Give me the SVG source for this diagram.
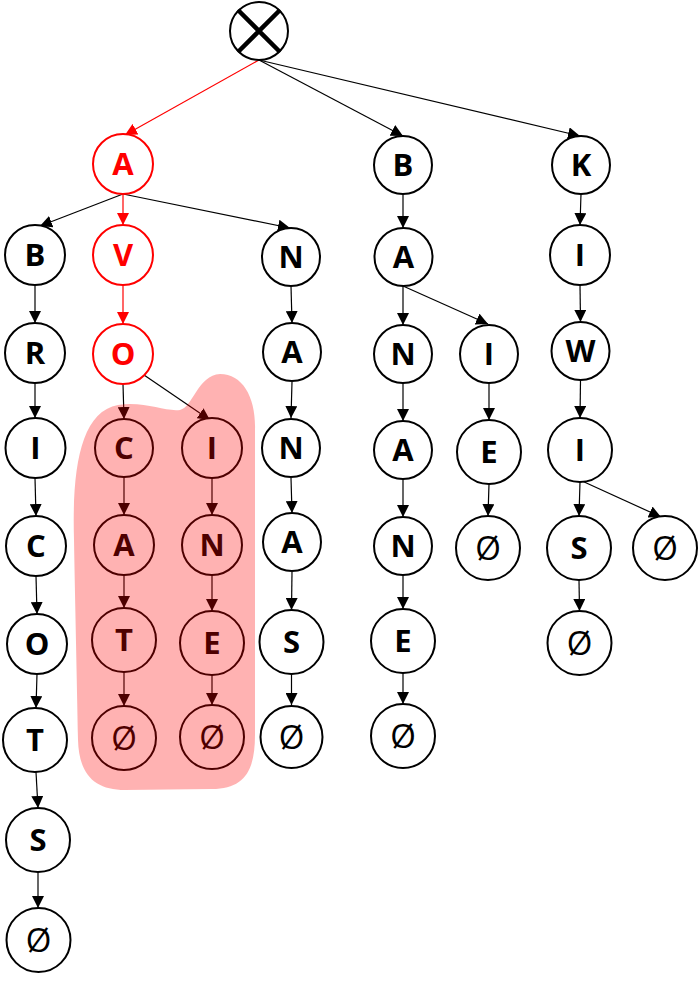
<svg xmlns="http://www.w3.org/2000/svg" width="700" height="984" viewBox="0 0 700 984">
<defs>
<style>
.n circle{fill:#fff;stroke:#000;stroke-width:2}
.n text{font-family:"Open Sans","Liberation Sans",sans-serif;font-weight:700;font-size:31px;text-anchor:middle;fill:#000}
.n text.e{font-weight:400;font-size:33px}
.r circle{stroke:#f00}
.r text{fill:#f00}
.c line{stroke:#000;stroke-width:1.2;marker-end:url(#ah)}
.c line.red{stroke:#f00;marker-end:url(#ahr)}
</style>
<marker id="ah" markerUnits="userSpaceOnUse" markerWidth="12" markerHeight="12" refX="12" refY="6" orient="auto"><path d="M0,0 L12,6 L0,12 Z" fill="#000"/></marker>
<marker id="ahr" markerUnits="userSpaceOnUse" markerWidth="12" markerHeight="12" refX="12" refY="6" orient="auto"><path d="M0,0 L12,6 L0,12 Z" fill="#f00"/></marker>
</defs>
<rect width="700" height="984" fill="#fff"/>
<g class="c" id="connectors">
<line class="red" x1="259" y1="60" x2="125" y2="135"/>
<line x1="259" y1="60" x2="403" y2="136"/>
<line x1="259" y1="60" x2="580" y2="136"/>
<line x1="123" y1="194" x2="40" y2="226"/>
<line class="red" x1="123" y1="194" x2="123" y2="225"/>
<line x1="123" y1="194" x2="290" y2="228"/>
<line class="red" x1="123" y1="285" x2="123" y2="324"/>
<line x1="35" y1="285" x2="35" y2="323"/>
<line x1="35" y1="383" x2="35" y2="418"/>
<line x1="35" y1="478" x2="36" y2="516"/>
<line x1="36" y1="576" x2="37" y2="614"/>
<line x1="37" y1="674" x2="36" y2="708"/>
<line x1="36" y1="772" x2="38" y2="808"/>
<line x1="38" y1="872" x2="38" y2="908"/>
<line x1="123" y1="384" x2="124" y2="419"/>
<line x1="144" y1="375" x2="210" y2="420"/>
<line x1="124" y1="477" x2="124" y2="515"/>
<line x1="124" y1="575" x2="124" y2="608"/>
<line x1="124" y1="672" x2="124" y2="706"/>
<line x1="212" y1="478" x2="212" y2="515"/>
<line x1="212" y1="575" x2="212" y2="611"/>
<line x1="212" y1="675" x2="212" y2="705"/>
<line x1="291" y1="286" x2="292" y2="323"/>
<line x1="292" y1="382" x2="291" y2="418"/>
<line x1="291" y1="478" x2="292" y2="513"/>
<line x1="292" y1="572" x2="291.5" y2="610"/>
<line x1="291.5" y1="674" x2="291.5" y2="705"/>
<line x1="403" y1="194" x2="403" y2="228"/>
<line x1="403" y1="286" x2="403" y2="325"/>
<line x1="403" y1="286" x2="488" y2="324"/>
<line x1="403" y1="383" x2="403" y2="421"/>
<line x1="403" y1="479" x2="403" y2="517"/>
<line x1="403" y1="575" x2="403" y2="609"/>
<line x1="403" y1="673" x2="403" y2="704"/>
<line x1="489" y1="383" x2="489" y2="420"/>
<line x1="489" y1="484" x2="488" y2="516"/>
<line x1="581" y1="194" x2="580" y2="225"/>
<line x1="580" y1="285" x2="580.5" y2="322"/>
<line x1="580.5" y1="380" x2="580" y2="418"/>
<line x1="580" y1="482" x2="579" y2="516"/>
<line x1="582" y1="481" x2="661" y2="517"/>
<line x1="579" y1="580" x2="579.5" y2="611"/>
</g>
<g id="root" class="n"><circle cx="259" cy="31" r="29"/><path d="M238,10 L280,52 M280,10 L238,52" stroke="#000" stroke-width="4.5"/></g>
<g id="n-A" class="n r"><circle cx="123" cy="164" r="30"/><text x="123" y="175">A</text></g>
<g id="n-AV" class="n r"><circle cx="123" cy="255" r="30"/><text x="123" y="266">V</text></g>
<g id="n-AVO" class="n r"><circle cx="123" cy="354" r="30"/><text x="123" y="365">O</text></g>
<g id="n-AB" class="n"><circle cx="35" cy="255" r="30"/><text x="35" y="266">B</text></g>
<g id="n-ABR" class="n"><circle cx="35" cy="353" r="30"/><text x="35" y="364">R</text></g>
<g id="n-ABRI" class="n"><circle cx="35.5" cy="448" r="30"/><text x="35.5" y="459">I</text></g>
<g id="n-ABRIC" class="n"><circle cx="36" cy="546" r="30"/><text x="36" y="557">C</text></g>
<g id="n-ABRICO" class="n"><circle cx="37" cy="644" r="30"/><text x="37" y="655">O</text></g>
<g id="n-ABRICOT" class="n"><circle cx="35" cy="740" r="32"/><text x="35" y="751">T</text></g>
<g id="n-ABRICOTS" class="n"><circle cx="38" cy="840" r="32"/><text x="38" y="851">S</text></g>
<g id="n-ABRICOTS-end" class="n"><circle cx="38.5" cy="940" r="32"/><text class="e" x="38.5" y="952">Ø</text></g>
<g id="n-AVOC" class="n"><circle cx="124" cy="448" r="29"/><text x="124" y="459">C</text></g>
<g id="n-AVOCA" class="n"><circle cx="124" cy="545" r="30"/><text x="124" y="556">A</text></g>
<g id="n-AVOCAT" class="n"><circle cx="124" cy="640" r="32"/><text x="124" y="651">T</text></g>
<g id="n-AVOCAT-end" class="n"><circle cx="124" cy="738" r="32"/><text class="e" x="124" y="750">Ø</text></g>
<g id="n-AVOI" class="n"><circle cx="212" cy="448" r="30"/><text x="212" y="459">I</text></g>
<g id="n-AVOIN" class="n"><circle cx="212" cy="545" r="30"/><text x="212" y="556">N</text></g>
<g id="n-AVOINE" class="n"><circle cx="212" cy="643" r="32"/><text x="212" y="654">E</text></g>
<g id="n-AVOINE-end" class="n"><circle cx="212" cy="737" r="32"/><text class="e" x="212" y="749">Ø</text></g>
<g id="n-AN" class="n"><circle cx="291" cy="257" r="29"/><text x="291" y="268">N</text></g>
<g id="n-ANA" class="n"><circle cx="292" cy="352" r="29"/><text x="292" y="363">A</text></g>
<g id="n-ANAN" class="n"><circle cx="291" cy="448" r="29"/><text x="291" y="459">N</text></g>
<g id="n-ANANA" class="n"><circle cx="292" cy="542" r="29"/><text x="292" y="553">A</text></g>
<g id="n-ANANAS" class="n"><circle cx="291.5" cy="642" r="32"/><text x="291.5" y="653">S</text></g>
<g id="n-ANANAS-end" class="n"><circle cx="291.5" cy="737" r="31"/><text class="e" x="291.5" y="749">Ø</text></g>
<g id="n-B" class="n"><circle cx="403" cy="165" r="29"/><text x="403" y="176">B</text></g>
<g id="n-BA" class="n"><circle cx="403.5" cy="257" r="29"/><text x="403.5" y="268">A</text></g>
<g id="n-BAN" class="n"><circle cx="403" cy="354" r="29"/><text x="403" y="365">N</text></g>
<g id="n-BANA" class="n"><circle cx="403" cy="450" r="29"/><text x="403" y="461">A</text></g>
<g id="n-BANAN" class="n"><circle cx="403" cy="546" r="29"/><text x="403" y="557">N</text></g>
<g id="n-BANANE" class="n"><circle cx="403" cy="641" r="32"/><text x="403" y="652">E</text></g>
<g id="n-BANANE-end" class="n"><circle cx="403" cy="736" r="32"/><text class="e" x="403" y="748">Ø</text></g>
<g id="n-BAI" class="n"><circle cx="489" cy="354" r="29"/><text x="489" y="365">I</text></g>
<g id="n-BAIE" class="n"><circle cx="489" cy="452" r="32"/><text x="489" y="463">E</text></g>
<g id="n-BAIE-end" class="n"><circle cx="488" cy="548" r="32"/><text class="e" x="488" y="560">Ø</text></g>
<g id="n-K" class="n"><circle cx="581" cy="165" r="29"/><text x="581" y="176">K</text></g>
<g id="n-KI" class="n"><circle cx="580" cy="255" r="30"/><text x="580" y="266">I</text></g>
<g id="n-KIW" class="n"><circle cx="580.5" cy="351" r="29"/><text x="580.5" y="362">W</text></g>
<g id="n-KIWI" class="n"><circle cx="580" cy="450" r="32"/><text x="580" y="461">I</text></g>
<g id="n-KIWIS" class="n"><circle cx="579" cy="548" r="32"/><text x="579" y="559">S</text></g>
<g id="n-KIWIS-end" class="n"><circle cx="579.5" cy="643" r="32"/><text class="e" x="579.5" y="655">Ø</text></g>
<g id="n-KIWI-end" class="n"><circle cx="665" cy="548" r="32"/><text class="e" x="665" y="560">Ø</text></g>
<path id="highlight" d="M74 540 C72 470 80 412 118 405 C145 401 165 412 180 410 C193 407 198 375 220 374 C243 374 256 398 255 430 L255 735 C255 770 245 789 212 789 L125 790 C95 790 79 775 78 740 C77 680 75 600 74 540 Z" fill="#f00" fill-opacity="0.3"/>
</svg>
